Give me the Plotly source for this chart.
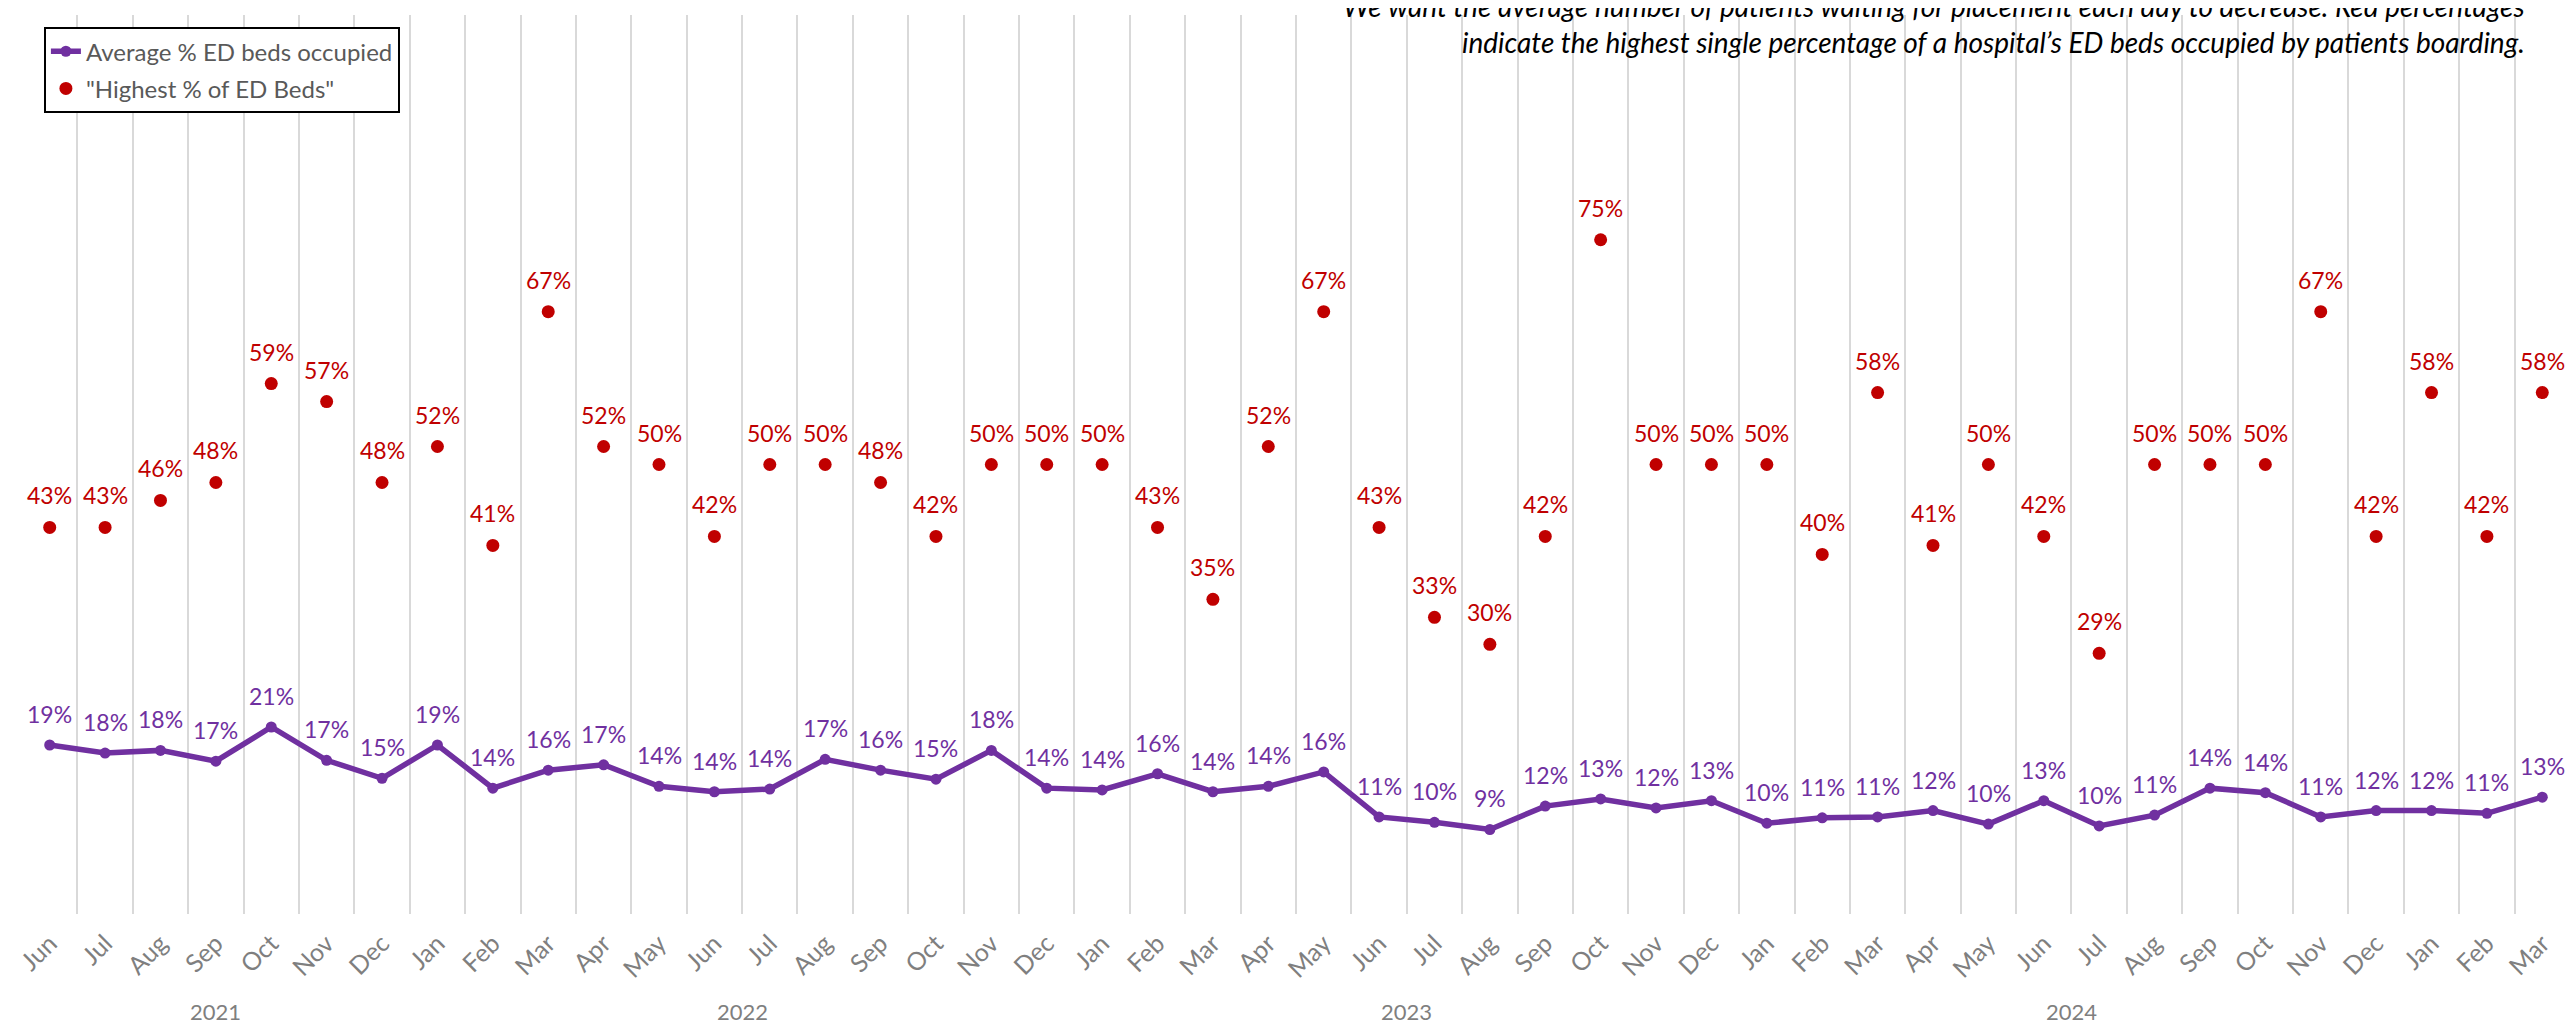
import plotly.graph_objects as go

months = ["Jun", "Jul", "Aug", "Sep", "Oct", "Nov", "Dec",
          "Jan", "Feb", "Mar", "Apr", "May", "Jun", "Jul", "Aug", "Sep", "Oct", "Nov", "Dec",
          "Jan", "Feb", "Mar", "Apr", "May", "Jun", "Jul", "Aug", "Sep", "Oct", "Nov", "Dec",
          "Jan", "Feb", "Mar", "Apr", "May", "Jun", "Jul", "Aug", "Sep", "Oct", "Nov", "Dec",
          "Jan", "Feb", "Mar"]
years = ["2021", "2022", "2023", "2024"]
year_first_idx = [0, 7, 19, 31]
year_last_idx = [6, 18, 30, 42]

avg_pct = [18.8, 17.9, 18.2, 17.0, 20.8, 17.1, 15.1, 18.8, 14.0, 16.0, 16.6, 14.2,
           13.6, 13.9, 17.2, 16.0, 15.0, 18.2, 14.0, 13.8, 15.6, 13.6, 14.2, 15.8,
           10.8, 10.2, 9.4, 12.0, 12.8, 11.8, 12.6, 10.1, 10.7, 10.8, 11.5, 10.0,
           12.6, 9.8, 11.0, 14.0, 13.5, 10.8, 11.5, 11.5, 11.2, 13.0]
highest_pct = [43, 43, 46, 48, 59, 57, 48, 52, 41, 67, 52, 50,
               42, 50, 50, 48, 42, 50, 50, 50, 43, 35, 52, 67,
               43, 33, 30, 42, 75, 50, 50, 50, 40, 58, 41, 50,
               42, 29, 50, 50, 50, 67, 42, 58, 42, 58]

x = list(range(len(months)))
avg = [v / 100 for v in avg_pct]
high = [v / 100 for v in highest_pct]

PURPLE = "#7030a0"
RED = "#c00000"
GRAY = "#7f7f7f"
FONT = "Lato"

fig = go.Figure()
fig.add_trace(go.Scatter(
    x=x, y=avg, mode="lines+markers", name="Average % ED beds occupied",
    line=dict(color=PURPLE, width=5.5), marker=dict(color=PURPLE, size=11),
    legendgroup="a", hoverinfo="skip"))
fig.add_trace(go.Scatter(
    x=x, y=high, mode="markers", name='"Highest % of ED Beds"',
    marker=dict(color=RED, size=13), legendgroup="b", hoverinfo="skip"))

annotations = []
for xi, v in zip(x, avg):
    annotations.append(dict(x=xi, y=v, xref="x", yref="y", text=f"{round(v*100)}%",
                            showarrow=False, yshift=31, yanchor="middle",
                            font=dict(family=FONT, size=23, color=PURPLE)))
for xi, v in zip(x, high):
    annotations.append(dict(x=xi, y=v, xref="x", yref="y", text=f"{round(v*100)}%",
                            showarrow=False, yshift=32, yanchor="middle",
                            font=dict(family=FONT, size=23, color=RED)))
for yr, a, b in zip(years, year_first_idx, year_last_idx):
    annotations.append(dict(x=(a + b) / 2, y=-0.108, xref="x", yref="paper", text=yr,
                            showarrow=False, yanchor="middle",
                            font=dict(family=FONT, size=22, color=GRAY)))
annotations.append(dict(x=0.983, y=1.010, xref="paper", yref="paper", xanchor="right",
                        yanchor="middle", showarrow=False,
                        text="<i>We want the average number of patients waiting for placement each day to decrease. Red percentages</i>",
                        font=dict(family=FONT, size=28, color="#000000")))
annotations.append(dict(x=0.983, y=0.970, xref="paper", yref="paper", xanchor="right",
                        yanchor="middle", showarrow=False,
                        text="<i>indicate the highest single percentage of a hospital’s ED beds occupied by patients boarding.</i>",
                        font=dict(family=FONT, size=28, color="#000000")))

fig.update_layout(
    width=2575, height=1021,
    margin=dict(l=14, r=13, t=7, b=115),
    paper_bgcolor="white", plot_bgcolor="white",
    showlegend=True,
    legend=dict(x=0.0086, y=0.9865, xanchor="left", yanchor="top",
                bgcolor="white", bordercolor="#000000", borderwidth=2,
                font=dict(family=FONT, size=24, color="#595959"),
                tracegroupgap=3),
    annotations=annotations,
    shapes=[dict(type="rect", xref="paper", yref="paper", x0=0.505, x1=0.993,
                 y0=0.925, y1=1.02, fillcolor="white", line=dict(width=0),
                 layer="between")],
    xaxis=dict(range=[-0.5, 45.5], tickmode="array", tickvals=x, ticktext=months,
               tickangle=-45, showgrid=False, zeroline=False, showline=False,
               ticks="", ticklabelstandoff=9,
               tickfont=dict(family=FONT, size=25, color=GRAY),
               minor=dict(tickmode="array", tickvals=[i - 0.5 for i in range(47)],
                          showgrid=True, gridcolor="#d9d9d9", gridwidth=2, ticks="")),
    yaxis=dict(range=[0, 1.0], showgrid=False, zeroline=False, showline=False,
               showticklabels=False),
)

fig.write_html("out.html")
